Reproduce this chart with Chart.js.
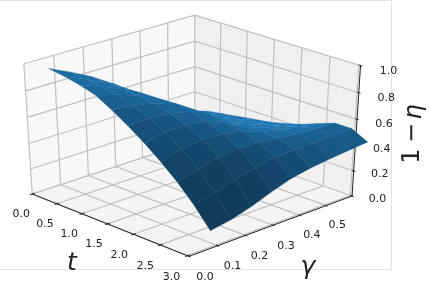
<!DOCTYPE html>
<html>
<head>
<meta charset="utf-8">
<style>
    html, body { margin: 0; padding: 0; background: #fff; }
    #wrap { position: relative; width: 430px; height: 291px; overflow: hidden; }
    #frame { position: absolute; left: -2px; top: 0; width: 392px; height: 268px; border: 1px solid #e2e2e2; }
    canvas { position: absolute; left: 0; top: 0; filter: blur(0.35px); }
</style>
<script src="https://cdn.jsdelivr.net/npm/chart.js@4"></script>
</head>
<body>
<div id="wrap">
    <div id="frame"></div>
    <canvas id="surface" width="430" height="291"></canvas>
</div>
<script>
// values
const tValues = [0, 0.3, 0.6, 0.9, 1.2, 1.5, 1.8, 2.1, 2.4, 2.7, 3.0];
const gammaValues = [0.08, 0.152, 0.224, 0.296, 0.368, 0.44, 0.512, 0.584, 0.655];
const row0 = [0.915, 0.843, 0.763, 0.665, 0.555, 0.442, 0.338, 0.26, 0.205];
const row1 = [0.897, 0.827, 0.751, 0.66, 0.557, 0.451, 0.35, 0.28, 0.225];
const row2 = [0.872, 0.813, 0.748, 0.666, 0.568, 0.457, 0.361, 0.297, 0.245];
const row3 = [0.836, 0.793, 0.739, 0.667, 0.575, 0.464, 0.375, 0.314, 0.265];
const row4 = [0.768, 0.752, 0.722, 0.667, 0.577, 0.467, 0.388, 0.332, 0.285];
const row5 = [0.691, 0.702, 0.688, 0.653, 0.574, 0.472, 0.405, 0.355, 0.315];
const row6 = [0.607, 0.638, 0.642, 0.62, 0.557, 0.478, 0.426, 0.385, 0.352];
const row7 = [0.511, 0.554, 0.577, 0.57, 0.536, 0.482, 0.449, 0.422, 0.40];
const row8 = [0.403, 0.45, 0.487, 0.501, 0.495, 0.475, 0.462, 0.452, 0.445];
const row9 = [0.277, 0.317, 0.361, 0.401, 0.426, 0.43, 0.435, 0.441, 0.446];
const row10 = [0.128, 0.155, 0.20, 0.258, 0.308, 0.337, 0.355, 0.37, 0.383];
const surfaceRows = [row0, row1, row2, row3, row4, row5, row6, row7, row8, row9, row10];

const tTicks = [0, 0.5, 1, 1.5, 2, 2.5, 3];
const gammaTicks = [0, 0.1, 0.2, 0.3, 0.4, 0.5];
const etaTicks = [0, 0.2, 0.4, 0.6, 0.8, 1];

// axis limits
const tMax = 3.03, gammaMax = 0.6;

// camera, same idea as mplot3d: elev about 30, azim about -45, dist 10
const elev = 31 * Math.PI / 180, azim = -44 * Math.PI / 180, dist = 10;
const scaleX = 232, scaleY = 152, originX = 192, originY = 131.5;

function project(t, g, z) {
    const X = t / tMax - 0.5, Y = g / gammaMax - 0.5, Z = z - 0.5;
    const se = Math.sin(elev), ce = Math.cos(elev), sa = Math.sin(azim), ca = Math.cos(azim);
    const right = -sa * X + ca * Y;
    const up = -se * ca * X - se * sa * Y + ce * Z;
    const depth = dist - (ce * ca * X + ce * sa * Y + se * Z);
    return { x: originX + scaleX * right * dist / depth, y: originY - scaleY * up * dist / depth, depth: depth };
}

function polyLine(points, color, width) {
    return { data: points, showLine: true, borderColor: color, borderWidth: width, pointRadius: 0, fill: false };
}

function polygon(points, color, edge) {
    return {
        data: points, showLine: true, pointRadius: 0, fill: 'shape', backgroundColor: color,
        borderColor: color, borderWidth: edge || 0
    };
}

// surface cells, nearest first because the first dataset ends up on top
function surfaceCells() {
    const nT = tValues.length - 1, nG = gammaValues.length - 1;
    const raw = [];
    for (let i = 0; i < nT; i++) {
        raw.push([]);
        for (let j = 0; j < nG; j++) {
            const a = surfaceRows[i][j], b = surfaceRows[i + 1][j], c = surfaceRows[i + 1][j + 1], d = surfaceRows[i][j + 1];
            // slope in box units
            const zx = ((b + c - a - d) / 2) / ((tValues[i + 1] - tValues[i]) / tMax);
            const zy = ((c + d - a - b) / 2) / ((gammaValues[j + 1] - gammaValues[j]) / gammaMax);
            raw[i].push((zx - 0.5 * zy + 0.5) / Math.sqrt(zx * zx + zy * zy + 1));
        }
    }
    const cells = [];
    let minS = Infinity, maxS = -Infinity;
    for (let i = 0; i < nT; i++) {
        for (let j = 0; j < nG; j++) {
            // average with the neighbours, the values are hand read and too noisy for flat shading
            let sum = 0, n = 0;
            for (let p = Math.max(i - 1, 0); p <= Math.min(i + 1, nT - 1); p++) {
                for (let q = Math.max(j - 1, 0); q <= Math.min(j + 1, nG - 1); q++) {
                    sum += raw[p][q];
                    n++;
                }
            }
            const shade = sum / n;
            minS = Math.min(minS, shade);
            maxS = Math.max(maxS, shade);
            const t0 = tValues[i], t1 = tValues[i + 1], g0 = gammaValues[j], g1 = gammaValues[j + 1];
            // closed ring so the edge stroke goes all the way round
            const pts = [project(t0, g0, surfaceRows[i][j]), project(t1, g0, surfaceRows[i + 1][j]), project(t1, g1, surfaceRows[i + 1][j + 1]), project(t0, g1, surfaceRows[i][j + 1]), project(t0, g0, surfaceRows[i][j])];
            cells.push({ pts: pts, shade: shade, depth: (pts[0].depth + pts[2].depth) / 2 });
        }
    }
    cells.sort((p, q) => p.depth - q.depth);
    return cells.map(cell => {
        const k = 0.5 + 0.5 * Math.pow((cell.shade - minS) / (maxS - minS), 0.9);
        return polygon(cell.pts, `rgb(${Math.round(31 * k)},${Math.round(119 * k)},${Math.round(180 * k)})`, 0.3);
    });
}

const gridColor = '#c0c0c0';

function gridAndPanes() {
    const sets = [];
    // grid on the three panes
    tTicks.forEach(t => {
        sets.push(polyLine([project(t, 0, 0), project(t, gammaMax, 0), project(t, gammaMax, 1)], gridColor, 1.2));
    });
    gammaTicks.forEach(g => {
        sets.push(polyLine([project(tMax, g, 0), project(0, g, 0), project(0, g, 1)], gridColor, 1.2));
    });
    etaTicks.forEach(z => {
        sets.push(polyLine([project(0, 0, z), project(0, gammaMax, z), project(tMax, gammaMax, z)], gridColor, 1.2));
    });
    // panes, floor last so it stays behind
    sets.push(polygon([project(0, 0, 0), project(0, gammaMax, 0), project(0, gammaMax, 1), project(0, 0, 1)], '#f8f8f8'));
    sets.push(polygon([project(0, gammaMax, 0), project(tMax, gammaMax, 0), project(tMax, gammaMax, 1), project(0, gammaMax, 1)], '#f0f0f0'));
    sets.push(polygon([project(0, 0, 0), project(tMax, 0, 0), project(tMax, gammaMax, 0), project(0, gammaMax, 0)], '#f4f4f4'));
    return sets;
}

function axesAndTicks() {
    const sets = [];
    sets.push(polyLine([project(0, 0, 0), project(tMax, 0, 0), project(tMax, gammaMax, 0), project(tMax, gammaMax, 1)], '#222', 1));
    tTicks.forEach(t => sets.push(polyLine([project(t, -0.008, 0), project(t, 0.008, 0)], '#222', 1)));
    gammaTicks.forEach(g => sets.push(polyLine([project(tMax + 0.03, g, 0), project(tMax - 0.03, g, 0)], '#222', 1)));
    etaTicks.forEach(z => sets.push(polyLine([project(tMax + 0.03, gammaMax, z), project(tMax - 0.03, gammaMax, z)], '#222', 1)));
    return sets;
}

// tick and axis labels
const tickLabels = {
    id: 'tickLabels',
    afterDatasetsDraw(chart) {
        const ctx = chart.ctx, sx = chart.scales.x, sy = chart.scales.y;
        const put = (text, p, dx, dy) => {
            ctx.fillText(text, sx.getPixelForValue(p.x) + dx, sy.getPixelForValue(p.y) + dy);
        };
        ctx.save();
        ctx.fillStyle = '#222';
        ctx.textAlign = 'center';
        ctx.textBaseline = 'middle';
        ctx.font = '11px "DejaVu Sans"';
        tTicks.forEach(t => put(t.toFixed(1), project(t, 0, 0), -11 - 1.6 * t, 20 + 0.4 * t));
        gammaTicks.forEach(g => put(g.toFixed(1), project(tMax, g, 0), 16 - 10 * g, 21 - 2 * g));
        etaTicks.forEach(z => put(z.toFixed(1), project(tMax, gammaMax, z), 25.5 + 2.5 * z, 3 + 3 * z));

        ctx.font = 'italic 25px "DejaVu Sans"';
        ctx.fillText('t', 72, 263);
        ctx.fillText('γ', 308, 267);

        ctx.translate(413, 133);
        ctx.rotate(-Math.PI / 2);
        ctx.font = '24px "DejaVu Sans"';
        ctx.fillText('1', -23, 0);
        ctx.fillText('−', 0, 0);
        ctx.font = 'italic 24px "DejaVu Sans"';
        ctx.fillText('η', 21, 2);
        ctx.restore();
    }
};

const ctx = document.getElementById('surface').getContext('2d');
new Chart(ctx, {
    type: 'scatter',
    data: { datasets: [...surfaceCells(), ...axesAndTicks(), ...gridAndPanes()] },
    options: {
        responsive: false,
        animation: false,
        events: [],
        layout: { padding: 0 },
        plugins: { legend: { display: false }, tooltip: { enabled: false } },
        scales: {
            x: { type: 'linear', min: 0, max: 430, display: false },
            y: { type: 'linear', min: 0, max: 291, reverse: true, display: false }
        }
    },
    plugins: [tickLabels]
});
</script>
</body>
</html>
